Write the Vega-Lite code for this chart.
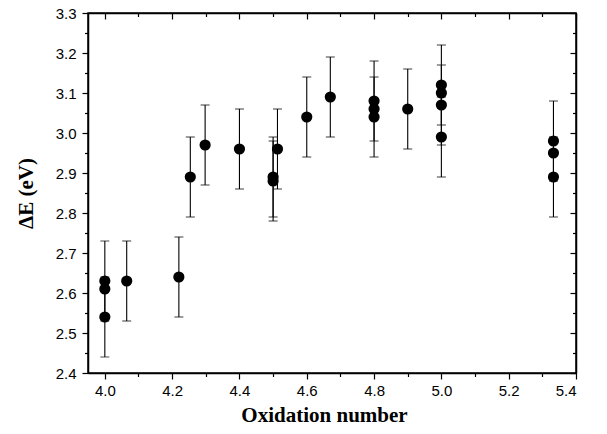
{
  "$schema": "https://vega.github.io/schema/vega-lite/v6.json",
  "width": 488,
  "height": 360,
  "autosize": "none",
  "padding": {"left": 88, "top": 13, "right": 31, "bottom": 61},
  "background": "white",
  "config": {
    "view": {"stroke": "black", "strokeWidth": 1.5},
    "axis": {
      "domainColor": "black", "domainWidth": 1.5, "tickColor": "black", "tickWidth": 1.2,
      "labelColor": "black", "titleColor": "black", "grid": false,
      "labelFont": "Liberation Sans", "labelFontSize": 15,
      "titleFont": "Liberation Serif", "titleFontSize": 21, "titleFontWeight": "bold"
    }
  },
  "data": {
    "values": [
      {"x": 4.0, "y": 2.63, "lo": 2.53, "hi": 2.73},
      {"x": 4.0, "y": 2.61, "lo": null, "hi": null},
      {"x": 4.0, "y": 2.54, "lo": 2.44, "hi": 2.64},
      {"x": 4.065, "y": 2.63, "lo": 2.53, "hi": 2.73},
      {"x": 4.22, "y": 2.64, "lo": 2.54, "hi": 2.74},
      {"x": 4.254, "y": 2.89, "lo": 2.79, "hi": 2.99},
      {"x": 4.298, "y": 2.97, "lo": 2.87, "hi": 3.07},
      {"x": 4.4, "y": 2.96, "lo": 2.86, "hi": 3.06},
      {"x": 4.5, "y": 2.89, "lo": 2.79, "hi": 2.99},
      {"x": 4.5, "y": 2.88, "lo": 2.78, "hi": 2.98},
      {"x": 4.513, "y": 2.96, "lo": 2.86, "hi": 3.06},
      {"x": 4.6, "y": 3.04, "lo": 2.94, "hi": 3.14},
      {"x": 4.67, "y": 3.09, "lo": 2.99, "hi": 3.19},
      {"x": 4.8, "y": 3.08, "lo": 2.98, "hi": 3.18},
      {"x": 4.8, "y": 3.06, "lo": null, "hi": null},
      {"x": 4.8, "y": 3.04, "lo": 2.94, "hi": 3.14},
      {"x": 4.9, "y": 3.06, "lo": 2.96, "hi": 3.16},
      {"x": 5.0, "y": 3.12, "lo": 3.02, "hi": 3.22},
      {"x": 5.0, "y": 3.1, "lo": null, "hi": null},
      {"x": 5.0, "y": 3.07, "lo": 2.97, "hi": 3.17},
      {"x": 5.0, "y": 2.99, "lo": 2.89, "hi": 3.09},
      {"x": 5.333, "y": 2.98, "lo": 2.88, "hi": 3.08},
      {"x": 5.333, "y": 2.95, "lo": null, "hi": null},
      {"x": 5.333, "y": 2.89, "lo": 2.79, "hi": 2.99}
    ]
  },
  "resolve": {"axis": {"x": "independent", "y": "independent"}},
  "layer": [
    {
      "mark": {"type": "rule", "color": "black", "strokeWidth": 1.1},
      "encoding": {
        "x": {"field": "x", "type": "quantitative", "scale": {"domain": [3.95, 5.4], "nice": false, "zero": false},
          "axis": {"orient": "bottom", "values": [4.0, 4.2, 4.4, 4.6, 4.8, 5.0, 5.2, 5.4], "format": ".1f", "tickSize": 6, "labelPadding": 4, "title": "Oxidation number", "titleBaseline": "alphabetic", "titleY": 48, "titleX": 236}},
        "y": {"field": "lo", "type": "quantitative", "scale": {"domain": [2.4, 3.3], "nice": false, "zero": false},
          "axis": {"orient": "left", "values": [2.4, 2.5, 2.6, 2.7, 2.8, 2.9, 3.0, 3.1, 3.2, 3.3], "format": ".1f", "tickSize": 6, "labelPadding": 6, "title": "ΔE (eV)", "titleX": -52, "titleY": 180}},
        "y2": {"field": "hi"}
      }
    },
    {
      "mark": {"type": "tick", "orient": "horizontal", "color": "black", "size": 9, "thickness": 1.1},
      "encoding": {
        "x": {"field": "x", "type": "quantitative",
          "axis": {"orient": "bottom", "values": [4.1, 4.3, 4.5, 4.7, 4.9, 5.1, 5.3], "tickSize": 3.5, "labels": false, "domain": false, "title": null}},
        "y": {"field": "lo", "type": "quantitative",
          "axis": {"orient": "left", "values": [2.45, 2.55, 2.65, 2.75, 2.85, 2.95, 3.05, 3.15, 3.25], "tickSize": 3.5, "labels": false, "domain": false, "title": null}}
      }
    },
    {
      "mark": {"type": "tick", "orient": "horizontal", "color": "black", "size": 9, "thickness": 1.1},
      "encoding": {
        "x": {"field": "x", "type": "quantitative",
          "axis": {"orient": "top", "values": [4.0, 4.2, 4.4, 4.6, 4.8, 5.0, 5.2, 5.4], "tickSize": -6, "labels": false, "title": null}},
        "y": {"field": "hi", "type": "quantitative",
          "axis": {"orient": "right", "values": [2.4, 2.5, 2.6, 2.7, 2.8, 2.9, 3.0, 3.1, 3.2, 3.3], "tickSize": -6, "labels": false, "title": null}}
      }
    },
    {
      "mark": {"type": "point", "filled": true, "color": "black", "opacity": 1, "size": 125, "shape": "circle"},
      "encoding": {
        "x": {"field": "x", "type": "quantitative",
          "axis": {"orient": "top", "values": [4.1, 4.3, 4.5, 4.7, 4.9, 5.1, 5.3], "tickSize": -3.5, "labels": false, "domain": false, "title": null}},
        "y": {"field": "y", "type": "quantitative",
          "axis": {"orient": "right", "values": [2.45, 2.55, 2.65, 2.75, 2.85, 2.95, 3.05, 3.15, 3.25], "tickSize": -3.5, "labels": false, "domain": false, "title": null}}
      }
    }
  ]
}
